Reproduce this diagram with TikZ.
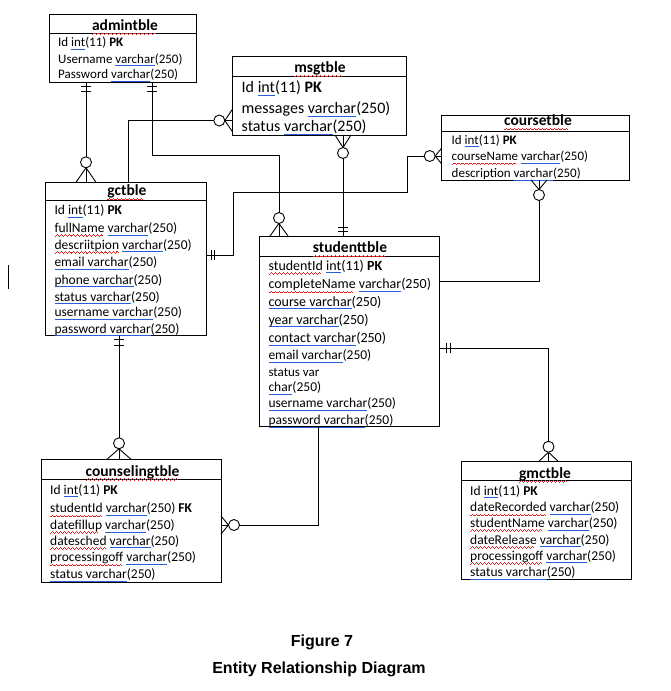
\documentclass[tikz,border=0pt]{standalone}
\usepackage{fontspec}
\setmainfont{Carlito}
\newfontfamily\arialf{Liberation Sans}
\definecolor{ulblue}{RGB}{40,95,215}
\definecolor{wavered}{RGB}{225,35,35}
\newsavebox\myulbox
\newcommand\bl[1]{\sbox\myulbox{#1}\rlap{\color{ulblue}\vrule width\wd\myulbox height-2.3pt depth3.2pt}\usebox\myulbox}
\newcommand\rw[1]{\sbox\myulbox{#1}\rlap{\color{wavered}\leaders\hbox{\vrule width1pt height-3.6pt depth4.4pt\vrule width1pt height-2.8pt depth3.6pt\vrule width1pt height-2pt depth2.8pt\vrule width1pt height-2.8pt depth3.6pt}\hskip\wd\myulbox}\usebox\myulbox}
\tikzset{
  conn/.style={draw=black, line width=0.9pt},
  box/.style={draw=black, line width=0.9pt, fill=white, inner sep=0pt, outer sep=0pt, anchor=north west},
  row/.style={inner sep=0pt, anchor=base west},
  ttl/.style={inner sep=0pt, anchor=base, font=\fontsize{15.5}{18}\bfseries\selectfont},
  fa/.style={font=\fontsize{13}{15}\selectfont},
  fb/.style={font=\fontsize{16}{19}\selectfont},
  fc/.style={font=\fontsize{13.5}{16}\selectfont},
  fd/.style={font=\fontsize{14}{16}\selectfont},
  captxt/.style={inner sep=0pt, anchor=base, font=\arialf\bfseries\fontsize{16}{19}\selectfont},
  pics/crow/.style args={#1/#2}{code={
    \draw[conn] (#1-5.5,0) -- (0,#2) (#1-5.5,0) -- (0,-#2);
    \draw[conn, fill=white] (#1,0) circle[radius=5.5];
  }},
  pics/bars/.style args={#1/#2}{code={
    \draw[conn] (#1,-5) -- (#1,5) (#2,-5) -- (#2,5);
  }}
}
\begin{document}
\begin{tikzpicture}[x=1pt, y=-1pt]
\useasboundingbox (0,0) rectangle (671,691);

% ---------- boxes ----------
\node[box, minimum width=147.7, minimum height=68.3] (admin) at (49,14) {};
\node[box, minimum width=174.4, minimum height=78.3] (msg) at (232.3,56.7) {};
\node[box, minimum width=187.6, minimum height=65] (course) at (441.7,115) {};
\node[box, minimum width=161, minimum height=153.4] (gct) at (45.7,182.3) {};
\node[box, minimum width=180.3, minimum height=190.7] (stu) at (259,236) {};
\node[box, minimum width=179.3, minimum height=123] (couns) at (41.7,459.3) {};
\node[box, minimum width=170.7, minimum height=117.6] (gmc) at (461,461.7) {};

% header separators
\draw[conn] (admin.west |- 0,33.3) -- (admin.east |- 0,33.3);
\draw[conn] (msg.west |- 0,76) -- (msg.east |- 0,76);
\draw[conn] (course.west |- 0,131.7) -- (course.east |- 0,131.7);
\draw[conn] (gct.west |- 0,200) -- (gct.east |- 0,200);
\draw[conn] (stu.west |- 0,256) -- (stu.east |- 0,256);
\draw[conn] (couns.west |- 0,479.3) -- (couns.east |- 0,479.3);
\draw[conn] (gmc.west |- 0,480) -- (gmc.east |- 0,480);

% ---------- admintble ----------
\node[ttl] (adminT) at (125,30.5) {\rw{admintble}};
\node[row, fa] (admin1) at (58,46.5) {Id \bl{int}(11) \textbf{PK}};
\node[row, fa] (admin2) at (58,63) {Username \bl{varchar}(250)};
\node[row, fa] (admin3) at (58,78.5) {Password \bl{varchar}(250)};

% ---------- msgtble ----------
\node[ttl] (msgT) at (320,72.7) {\rw{msgtble}};
\node[row, fb] (msg1) at (241.5,92.7) {Id \bl{int}(11) \textbf{PK}};
\node[row, fb] (msg2) at (241.5,113.3) {messages \bl{varchar}(250)};
\node[row, fb] (msg3) at (241.5,131.7) {status \bl{varchar}(250)};

% ---------- coursetble ----------
\node[ttl] (courseT) at (538,125.7) {\rw{coursetble}};
\node[row, fa] (course1) at (451.5,144) {Id \bl{int}(11) \textbf{PK}};
\node[row, fa] (course2) at (451.5,160.5) {\rw{courseName} \bl{varchar}(250)};
\node[row, fa] (course3) at (451.5,177.5) {description \bl{varchar}(250)};

% ---------- gctble ----------
\node[ttl] (gctT) at (127,195.7) {\rw{gctble}};
\node[row, fc] (gct1) at (54.3,214.3) {Id \bl{int}(11) \textbf{PK}};
\node[row, fc] (gct2) at (54.3,232.3) {\rw{fullName} \bl{varchar}(250)};
\node[row, fc] (gct3) at (54.3,249) {\rw{descriitpion} \bl{varchar}(250)};
\node[row, fc] (gct4) at (54.3,266.7) {\bl{email varchar}(250)};
\node[row, fc] (gct5) at (54.3,284) {\bl{phone varchar}(250)};
\node[row, fc] (gct6) at (54.3,301) {\bl{status varchar}(250)};
\node[row, fc] (gct7) at (54.3,316.7) {\bl{username varchar}(250)};
\node[row, fc] (gct8) at (54.3,333) {\bl{password varchar}(250)};

% ---------- studenttble ----------
\node[ttl] (stuT) at (350,252.7) {\rw{studenttble}};
\node[row, fd] (stu1) at (268.3,270) {\rw{studentId} \bl{int}(11) \textbf{PK}};
\node[row, fd] (stu2) at (268.3,288.7) {\rw{completeName} \bl{varchar}(250)};
\node[row, fd] (stu3) at (268.3,306) {\bl{course varchar}(250)};
\node[row, fd] (stu4) at (268.3,324) {\bl{year varchar}(250)};
\node[row, fd] (stu5) at (268.3,342.7) {\bl{contact varchar}(250)};
\node[row, fc] (stu6) at (268.3,359.3) {\bl{email varchar}(250)};
\node[row, fa] (stu7) at (268.3,376) {status var};
\node[row, fc] (stu8) at (268.3,391.7) {\bl{char}(250)};
\node[row, fc] (stu9) at (268.3,407.3) {\bl{username varchar}(250)};
\node[row, fc] (stu10) at (268.3,424.3) {\bl{password varchar}(250)};

% ---------- counselingtble ----------
\node[ttl] (counsT) at (132.5,476) {\rw{counselingtble}};
\node[row, fc] (couns1) at (50,494) {Id \bl{int}(11) \textbf{PK}};
\node[row, fc] (couns2) at (50,512.7) {\rw{studentId} \bl{varchar}(250) \textbf{FK}};
\node[row, fc] (couns3) at (50,529.3) {\rw{datefillup} \bl{varchar}(250)};
\node[row, fc] (couns4) at (50,545) {\rw{datesched} \bl{varchar}(250)};
\node[row, fc] (couns5) at (50,561.7) {\rw{processingoff} \bl{varchar}(250)};
\node[row, fc] (couns6) at (50,578.3) {\bl{status varchar}(250)};

% ---------- gmctble ----------
\node[ttl] (gmcT) at (545,478.3) {\rw{gmctble}};
\node[row, fc] (gmc1) at (470,495) {Id \bl{int}(11) \textbf{PK}};
\node[row, fc] (gmc2) at (470,511.7) {\rw{dateRecorded} \bl{varchar}(250)};
\node[row, fc] (gmc3) at (470,527.3) {\rw{studentName} \bl{varchar}(250)};
\node[row, fc] (gmc4) at (470,544) {\rw{dateRelease} \bl{varchar}(250)};
\node[row, fc] (gmc5) at (470,560) {\rw{processingoff} \bl{varchar}(250)};
\node[row, fc] (gmc6) at (470,576.7) {\bl{status varchar}(250)};

% ---------- connectors ----------
\draw[conn] (86,0 |- admin.south) -- (86,0 |- gct.north);
\draw[conn] (152,0 |- admin.south) |- (279,155.5) -- (279,0 |- stu.north);
\draw[conn] (msg.west |- 0,120.5) -| (128,0 |- gct.north);
\draw[conn] (343,0 |- msg.south) -- (343,0 |- stu.north);
\draw[conn] (course.west |- 0,156) -| (407.5,192) -| (233,255) -- (gct.east |- 0,255);
\draw[conn] (539,0 |- course.south) |- (stu.east |- 0,281.5);
\draw[conn] (stu.east |- 0,348) -| (548.5,0 |- gmc.north);
\draw[conn] (119,0 |- gct.south) -- (119,0 |- couns.north);
\draw[conn] (318,0 |- stu.south) |- (couns.east |- 0,525);

% ---------- cardinality marks ----------
\pic[rotate=-90] at (86,0 |- admin.south) {bars={4.5/9.5}};
\pic[rotate=90] at (86,0 |- gct.north) {crow={20/10}};
\pic[rotate=-90] at (152,0 |- admin.south) {bars={4.5/9.5}};
\pic[rotate=90] at (279,0 |- stu.north) {crow={18/9}};
\pic[rotate=180] at (msg.west |- 0,120.5) {crow={13/11}};
\pic[rotate=-90] at (343,0 |- msg.south) {crow={18/8}};
\pic[rotate=90] at (343,0 |- stu.north) {bars={5/9}};
\pic[rotate=180] at (course.west |- 0,156) {crow={12/8}};
\pic[rotate=0] at (gct.east |- 0,255) {bars={4.5/8}};
\pic[rotate=-90] at (539,0 |- course.south) {crow={15/8}};
\pic[rotate=0] at (stu.east |- 0,348) {bars={7/11}};
\pic[rotate=90] at (548.5,0 |- gmc.north) {crow={15/10}};
\pic[rotate=-90] at (119,0 |- gct.south) {bars={3.5/10}};
\pic[rotate=90] at (119,0 |- couns.north) {crow={16/12}};
\pic[rotate=0] at (couns.east |- 0,525) {crow={13/9}};

% stray mark at left
\coordinate (strayA) at (8,265);
\coordinate (strayB) at (8,289);
\draw[line width=0.8pt] (strayA) -- (strayB);

% ---------- caption ----------
\node[captxt] (fig) at (322,646.5) {Figure 7};
\node[captxt] (erd) at (319,673.3) {Entity Relationship Diagram};
\end{tikzpicture}
\end{document}
